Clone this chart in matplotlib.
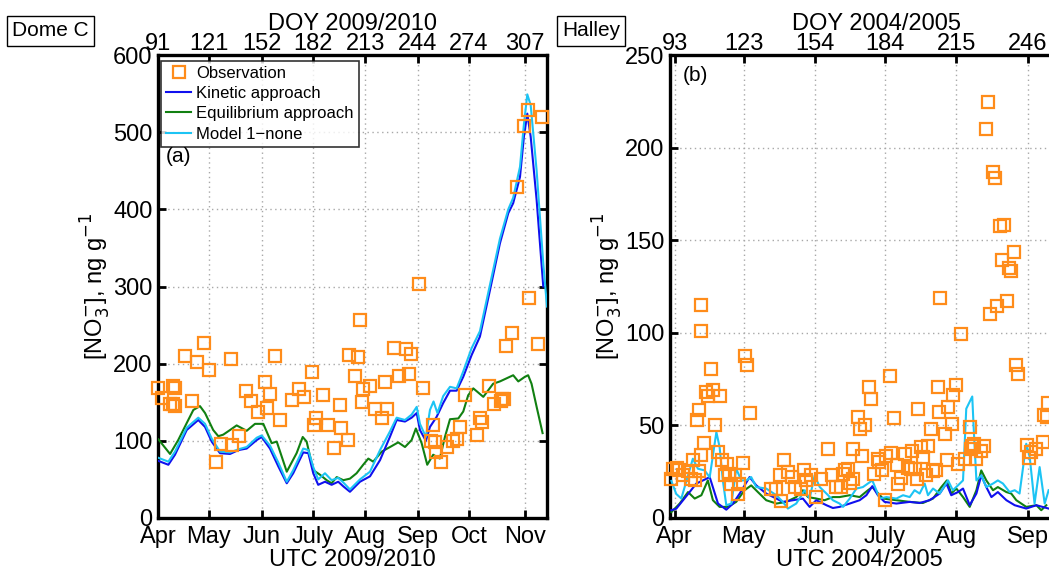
import matplotlib
matplotlib.use("Agg")
import matplotlib.pyplot as plt

plt.rcParams['font.family'] = ['Liberation Sans Narrow', 'Liberation Sans', 'DejaVu Sans']

# ---------------- Dome C (a) ----------------
domec_month_ticks = [91, 121, 152, 182, 213, 244, 274, 307]
domec_month_labels = ['Apr', 'May', 'Jun', 'July', 'Aug', 'Sep', 'Oct', 'Nov']
domec_doy_labels = ['91', '121', '152', '182', '213', '244', '274', '307']

domec_obs_doy = [91.2, 93.2, 98.1, 100, 101, 100, 101, 106.9, 110.8, 114.1, 118.1, 121, 124.9, 127.9,
                 133.8, 134.7, 138.9, 143, 145.9, 150, 154, 155, 157.1, 159.9, 163, 169.9, 174, 176.9,
                 181.8, 183, 184, 187.9, 191.1, 194.8, 197.9, 198.9, 202.8, 203.6, 206.9, 208.9, 209.9,
                 210.9, 211.8, 215.8, 218.7, 222.7, 224.6, 225.6, 229.9, 232.8, 237, 238.9, 239.7, 244.8,
                 246.8, 251.7, 253, 254, 254.6, 257.6, 260.9, 264.8, 266.8, 268.8, 271.7, 278.6, 280.5,
                 281.9, 285.8, 288.8, 292.7, 293.6, 294.6, 295.6, 299.5, 302.4, 306.6, 308.9, 309.5,
                 314.7, 316.9]
domec_obs_val = [169, 156, 148, 171, 169, 148, 145, 210, 152, 202, 227, 192, 72, 96,
                 206, 95, 106, 165, 151, 138, 176, 142, 161, 210, 127, 153, 167, 157,
                 189, 121, 129, 160, 121, 91, 146, 117, 101, 211, 184, 209, 256,
                 150, 167, 171, 141, 130, 176, 141, 220, 184, 219, 186, 212, 303,
                 169, 100, 121, 98, 85, 73, 92, 100, 103, 118, 159, 108, 130,
                 125, 171, 148, 151, 154, 154, 223, 240, 429, 508, 529, 285,
                 225, 520]

domec_kin_doy = [91.2, 97.1, 101, 107.9, 114.7, 118.7, 122.6, 127.5, 133.4, 138.3, 143.2, 149.1, 152,
                 156.9, 161.8, 166.8, 170.6, 176.5, 179.5, 182.4, 185.3, 189.3, 193.2, 197.1, 200.1,
                 204, 209.9, 215.8, 221.7, 227.5, 231.5, 236.4, 240.3, 243.3, 245.2, 248.7, 251.1, 255,
                 258.9, 262.9, 266.8, 270.7, 275.6, 280.5, 286.4, 292.3, 297.2, 300.1, 304.1, 306.4,
                 308.4, 310.4, 313.9, 317.8]
domec_kin_val = [74, 69, 82, 114, 127, 118, 99, 84, 83, 88, 90, 101, 105,
                 90, 67, 45, 58, 85, 84, 58, 43, 47, 43, 47, 41,
                 34, 47, 54, 75, 105, 127, 125, 130, 136, 114, 100, 118, 131,
                 149, 165, 165, 183, 211, 235, 295, 356, 395, 408, 442, 494,
                 524, 494, 412, 300]

domec_mod_doy = [91.2, 97.1, 101, 107.9, 114.7, 118.7, 122.6, 127.5, 133.4, 138.3, 143.2, 149.1, 152,
                 156.9, 161.8, 166.8, 170.6, 176.5, 179.5, 182.4, 185.3, 189.3, 193.2, 197.1, 200.1,
                 204, 209.9, 215.8, 221.7, 227.5, 231.5, 236.4, 240.3, 243.3, 245.2, 248.7, 251.1,
                 253.2, 255.5, 258.9, 262.9, 266.8, 270.7, 275.6, 280.5, 286.4, 292.3, 297.2, 300.1,
                 304.1, 306.4, 308.4, 310.4, 313.9, 317.8, 320]
domec_mod_val = [78, 73, 86, 117, 130, 122, 103, 86, 85, 89, 92, 104, 107,
                 94, 72, 47, 62, 90, 88, 66, 50, 58, 49, 52, 46,
                 37, 50, 60, 88, 112, 130, 127, 134, 144, 122, 105, 140,
                 151, 136, 158, 170, 168, 190, 220, 242, 302, 362, 400, 415,
                 455, 510, 549, 535, 450, 330, 274]

domec_eq_doy = [91.2, 98.1, 102.9, 107.9, 111.8, 115.7, 118.7, 123.5, 126.5, 129.4, 133.4, 137.3, 143.2,
                148.1, 153, 157.9, 160.9, 166.8, 172.6, 176.2, 178.5, 182.4, 186.4, 190.3, 193.2,
                196.2, 200.1, 204, 207.9, 211.8, 214.8, 217.7, 222.7, 227.6, 232.4, 236.4, 240.3,
                242.8, 246.2, 249.5, 253, 256.9, 259.9, 262.9, 267.8, 270.7, 273.6, 276.6, 282.5,
                288.3, 292.3, 296.2, 300.1, 303.1, 307, 308.9, 310.9, 313.9, 317.4]
domec_eq_val = [102, 83, 101, 123, 140, 145, 136, 114, 106, 108, 114, 120, 113,
                122, 122, 97, 99, 60, 84, 105, 99, 62, 56, 49, 45,
                53, 49, 51, 58, 69, 77, 73, 86, 92, 98, 92, 101,
                116, 97, 69, 82, 77, 105, 128, 129, 138, 159, 168, 157,
                174, 177, 181, 185, 177, 183, 185, 174, 144, 110]

# ---------------- Halley (b) ----------------
halley_month_ticks = [93, 123, 154, 184, 215, 246]
halley_month_labels = ['Apr', 'May', 'Jun', 'July', 'Aug', 'Sep']
halley_doy_labels = ['93', '123', '154', '184', '215', '246']

halley_obs_doy = [104.6, 104.6, 123.3, 124.3, 108.6, 106.7, 109.6, 107.4, 112.5, 103.5, 102.6, 110.6, 125.5,
                  105.7, 104.6, 101, 111.9, 113.7, 115.7, 94, 91.3, 92.3, 94.9, 96.6, 98.8, 100.3, 101.7,
                  103.6, 114.7, 116.5, 117.5, 119, 120.9, 120.5, 122.6, 134.9, 137.1, 138.5, 140.2, 142.1,
                  144, 145, 147.9, 149, 150.1, 152.3, 154.4, 156.6, 159.5, 161, 163.1, 139.3,
                  177.1, 178.3, 207.1, 215, 213.5, 198.4, 211.6, 207.5, 172.3, 175.6, 173.2, 188, 204.1,
                  213.4, 220.9, 210.2, 170.4, 174.3, 186.6, 184.7, 192.8, 196, 199.6, 202.9, 200.6, 189.4,
                  181.1, 181.8, 183, 179.6, 194.1, 195.6, 197, 198, 202.1, 205, 206.4, 211.1, 215.8, 219,
                  222, 221.6, 222.8, 227, 226, 223.8, 189.8, 191, 184, 165.2, 166.7, 168.1, 166, 170.4,
                  168.9, 245.7, 246.5, 247.5, 249.7, 252.6, 253.3, 254.3, 255,
                  229, 228, 231, 231.9, 233.9, 235.8, 239.9, 235, 238, 238.9, 208.1, 236.9, 232.8, 229.8,
                  217, 240.9, 241.8, 186.2]
halley_obs_val = [115, 101, 87.6, 82.5, 80.4, 68, 69, 66, 66, 58.5, 52.7, 50.4, 56.6,
                  40.7, 34.2, 31.1, 35.6, 31.1, 29.3, 27.2, 21.2, 26.6, 25.7, 23, 25.4, 21.2, 20.3,
                  25.4, 23, 23.6, 18.6, 23, 18.6, 13.2, 29.7, 15.9, 15.9, 23, 31.5, 24.8,
                  22.1, 16.7, 15.9, 26.1, 20.3, 23, 11.3, 21.2, 37.4, 23, 16.7, 9,
                  71, 64.4, 71, 71.6, 66.6, 59, 60.2, 57.2, 54.5, 50.4, 47.8, 53.9, 48.2,
                  50.9, 49.1, 45.1, 37, 33.3, 35.1, 33.3, 34.7, 36, 38.3, 38.8, 32.9, 28.4,
                  31.7, 30.2, 26.1, 23.9, 27.2, 26.6, 26.6, 20.9, 23.4, 25.4, 25.7, 31.5, 29.3, 31.7,
                  38.8, 37.4, 40.1, 38.8, 36, 32, 18.6, 21.6, 9.9, 16.7, 26.1, 26.6, 23.9, 21.2,
                  18.9, 39.2, 32.6, 35.6, 37, 41, 55.4, 54.5, 62,
                  224.7, 210.3, 186.6, 183.6, 157.5, 158, 143.8, 139.5, 135.1, 133.2, 119, 117.3, 114.7, 109.9,
                  99.5, 82.4, 77.9, 76.6]

halley_kin_doy = [91.6, 93.7, 96.6, 99.5, 102.4, 105.3, 108.2, 111.8, 115.4, 118.3, 121.2, 125.5, 128.4,
                  132.7, 137.1, 139.9, 144.3, 148.6, 151.5, 154.4, 158.8, 161.6, 164.5, 168.9, 173.2,
                  176.1, 178.7, 181.1, 184, 189.1, 194.9, 199.2, 203.5, 207.9, 210.8, 212.9, 215.8, 218,
                  220.9, 223.8, 225.9, 228.1, 230.3, 233.1, 236.8, 240.4, 245.4, 249.8, 255.1]
halley_kin_val = [4.2, 5, 9.5, 14, 18.6, 20.3, 22.1, 7.8, 4.5, 7.8, 13.2, 22.1, 17.6,
                  13.2, 10.5, 8.7, 9.6, 10.5, 6, 9.6, 6.9, 5.4, 6, 7.8, 9.6,
                  12.3, 17.2, 12.3, 8.7, 7.8, 8.7, 8.1, 9.6, 13.2, 18.6, 12.3, 14, 15.9,
                  6.9, 13.2, 23, 16.7, 11.3, 14, 9.6, 6.9, 5.1, 6.9, 5.1]

halley_mod_doy = [91.6, 93.7, 95.9, 100.9, 103.1, 106, 108.2, 111.1, 112.5, 113.9, 115.4, 117.6, 119.7,
                  121.9, 124.1, 126.2, 128.4, 132.7, 137.1, 139.9, 142.1, 145.7, 149.4, 151.5, 153.7,
                  155.9, 158.8, 161.6, 164.5, 166, 168.9, 171.8, 174.6, 178.7, 181.9, 184.8, 189.1, 192,
                  194.9, 197, 199.2, 201.4, 202.8, 205, 207.9, 211.5, 213.6, 215.8, 218, 219.4, 222,
                  222.6, 223.8, 225.9, 228.1, 231, 233.1, 235.3, 238.2, 240.4, 242.5, 245.4, 246.9, 249,
                  251.2, 253.4, 255.1]
halley_mod_val = [20, 13, 10.5, 32, 26.6, 25.7, 22, 46.4, 38.3, 20.3, 6.9, 7.8, 26.6,
                  20.3, 20.3, 22.1, 16.7, 15.9, 12.3, 8.7, 5.1, 7.8, 15, 10.5, 23,
                  16.7, 13.2, 9.6, 7.8, 6, 10.5, 15.9, 16.7, 20.3, 10.5, 11.3, 10.5, 12.3,
                  11.3, 15, 13.2, 18.6, 12.3, 15.9, 13.2, 20.3, 15, 17.6, 20.3, 59, 65.6,
                  49.1, 20.3, 23, 16.7, 18.6, 20.3, 18.6, 14, 15, 13.2, 40.1, 33, 7.8,
                  27.5, 7.8, 15]

halley_eq_doy = [91.6, 95.2, 98.8, 101.7, 104.6, 107.4, 109.6, 112.5, 116.1, 119.7, 123.3, 126.2, 129.1,
                 132.7, 137.1, 141.4, 145.7, 148.6, 150.8, 154.4, 158, 161.6, 164.5, 168.9, 173.2, 176.8,
                 178.7, 183.3, 189.1, 194.9, 200.6, 205, 208.6, 211, 212.9, 215.1, 218, 220.9, 223.8,
                 225.9, 228.1, 231, 233.1, 236.8, 238.9, 241.1, 245.4, 249.8, 251.9, 254.1]
halley_eq_val = [3.2, 7.8, 14, 10.5, 12.3, 20.3, 9.6, 6, 6, 8.7, 15, 17.6, 14,
                 9.6, 7.8, 8.7, 11.3, 15, 11.3, 10.5, 9.6, 11.3, 11.3, 12.3, 11.3, 15,
                 16.7, 10.5, 9.6, 8.7, 8.1, 10.5, 16.7, 20.3, 13.2, 15.9, 11.3, 6, 15,
                 25.7, 20.3, 15, 16.7, 14, 13.2, 9.6, 6, 6.9, 4.2, 6.9]

# ---------------- styling ----------------
C_OBS = '#ff8c1a'
C_KIN = '#1010ee'
C_EQ = '#118011'
C_MOD = '#1cc4f4'
FS = 17

W, H = 1049, 570
fig = plt.figure(figsize=(W / 100, H / 100), dpi=100)


def px_axes(x0, x1, y0, y1):
    return fig.add_axes([x0 / W, 1 - y1 / H, (x1 - x0) / W, (y1 - y0) / H])


def style(ax, ticks, mlabels, dlabels, yticks, toplabel, bottomlabel):
    for s in ax.spines.values():
        s.set_linewidth(2.4)
    ax.set_xticks(ticks)
    ax.set_xticklabels(mlabels)
    ax.set_yticks(yticks)
    ax.tick_params(direction='in', length=6, width=2.0, labelsize=FS, top=True, right=True)
    ax.tick_params(axis='x', pad=6)
    ax.tick_params(axis='y', pad=4)
    ax.grid(True, linestyle=(0, (1, 2.5)), color='#a8a8a8', linewidth=1.0)
    sec = ax.secondary_xaxis('top')
    sec.set_xticks(ticks)
    sec.set_xticklabels(dlabels)
    sec.tick_params(direction='in', length=0, labelsize=FS, pad=0)
    sec.spines['top'].set_visible(False)
    sec.set_xlabel(toplabel, fontsize=FS, labelpad=2)
    ax.set_xlabel(bottomlabel, fontsize=FS, labelpad=0.5)
    ax.set_ylabel(r'[NO$_3^{-}$], ng g$^{-1}$', fontsize=FS, labelpad=0)


# Left panel
ax1 = px_axes(158, 547, 55, 518)
ax1.plot(domec_eq_doy, domec_eq_val, color=C_EQ, lw=1.5, label='Equilibrium approach', zorder=3)
ax1.plot(domec_kin_doy, domec_kin_val, color=C_KIN, lw=1.5, label='Kinetic approach', zorder=4)
ax1.plot(domec_mod_doy, domec_mod_val, color=C_MOD, lw=1.5, label='Model 1\u2212none', zorder=5)
ax1.plot(domec_obs_doy, domec_obs_val, linestyle='none', marker='s', markersize=8.5,
         markerfacecolor='none', markeredgecolor=C_OBS, markeredgewidth=1.6, label='Observation',
         zorder=6, clip_on=False)
ax1.set_xlim(91, 320)
ax1.set_ylim(0, 600)
style(ax1, domec_month_ticks, domec_month_labels, domec_doy_labels, range(0, 601, 100),
      'DOY 2009/2010', 'UTC 2009/2010')
h, l = ax1.get_legend_handles_labels()
order = [3, 1, 0, 2]
leg = ax1.legend([h[i] for i in order], [l[i] for i in order], loc='upper left',
                 bbox_to_anchor=(0.0, 0.995), fontsize=12, frameon=True, fancybox=False,
                 handlelength=1.5, handletextpad=0.3, borderpad=0.3, labelspacing=0.32,
                 borderaxespad=0.2)
leg.get_frame().set_edgecolor('black')
leg.get_frame().set_linewidth(1.2)
ax1.text(0.02, 0.78, '(a)', transform=ax1.transAxes, fontsize=15, va='center', ha='left')
fig.text(12 / W, 1 - 31 / H, 'Dome C', fontsize=15, va='center', ha='left',
         bbox=dict(boxstyle='square,pad=0.25', facecolor='white', edgecolor='black', lw=1))

# Right panel
ax2 = px_axes(670, 1083, 55, 518)
ax2.plot(halley_eq_doy, halley_eq_val, color=C_EQ, lw=1.5, zorder=3)
ax2.plot(halley_kin_doy, halley_kin_val, color=C_KIN, lw=1.5, zorder=4)
ax2.plot(halley_mod_doy, halley_mod_val, color=C_MOD, lw=1.5, zorder=5)
ax2.plot(halley_obs_doy, halley_obs_val, linestyle='none', marker='s', markersize=8.5,
         markerfacecolor='none', markeredgecolor=C_OBS, markeredgewidth=1.6, zorder=6,
         clip_on=False)
ax2.set_xlim(91, 270)
ax2.set_ylim(0, 250)
style(ax2, halley_month_ticks, halley_month_labels, halley_doy_labels, range(0, 251, 50),
      'DOY 2004/2005', 'UTC 2004/2005')
ax2.xaxis.label.set_position(((1049 - 670) / 2 / 413 + 0.0, 0))
ax2.text(0.03, 0.955, '(b)', transform=ax2.transAxes, fontsize=15, va='center', ha='left')
fig.text(562 / W, 1 - 31 / H, 'Halley', fontsize=15, va='center', ha='left',
         bbox=dict(boxstyle='square,pad=0.25', facecolor='white', edgecolor='black', lw=1))

fig.savefig('out.png', dpi=100)
